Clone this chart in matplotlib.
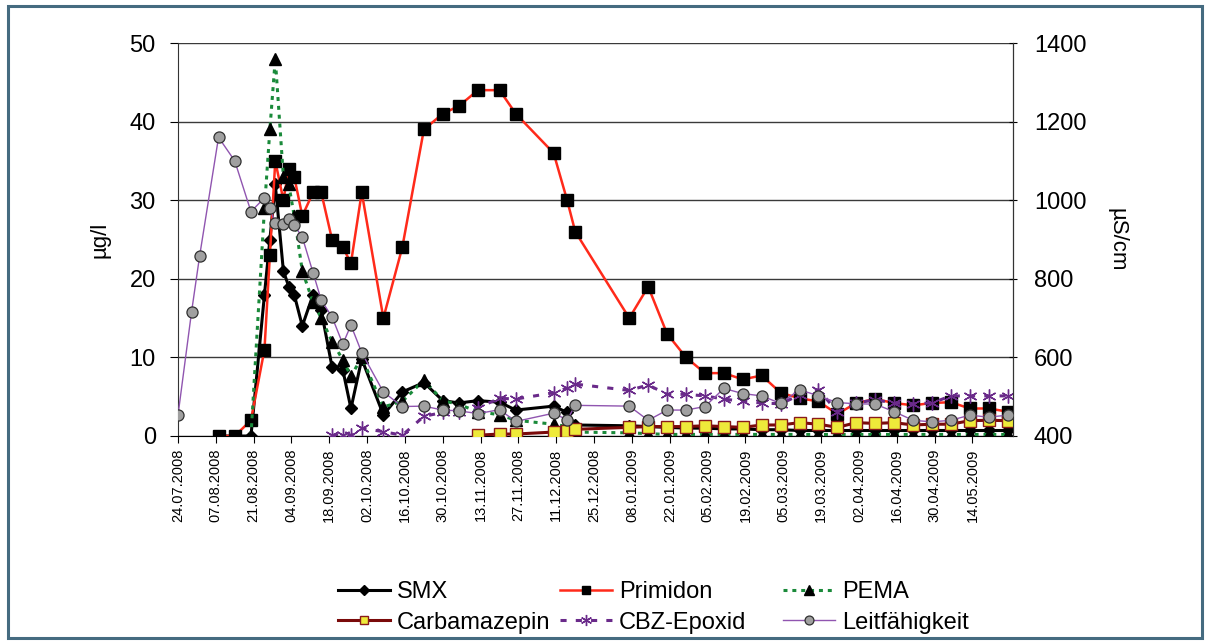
import numpy as np
import pandas as pd
import matplotlib
matplotlib.use("Agg")
import matplotlib.pyplot as plt
from matplotlib.patches import Rectangle

plt.rcParams['font.family'] = ['Liberation Sans', 'DejaVu Sans']

dates = ["24.07.2008", "29.07.2008", "01.08.2008", "08.08.2008", "14.08.2008", "20.08.2008",
         "25.08.2008", "27.08.2008", "29.08.2008", "01.09.2008", "03.09.2008", "05.09.2008",
         "08.09.2008", "12.09.2008", "15.09.2008", "19.09.2008", "23.09.2008", "26.09.2008",
         "30.09.2008", "08.10.2008", "15.10.2008", "23.10.2008", "30.10.2008", "05.11.2008",
         "12.11.2008", "20.11.2008", "26.11.2008", "10.12.2008", "15.12.2008", "18.12.2008",
         "07.01.2009", "14.01.2009", "21.01.2009", "28.01.2009", "04.02.2009", "11.02.2009",
         "18.02.2009", "25.02.2009", "04.03.2009", "11.03.2009", "18.03.2009", "25.03.2009",
         "01.04.2009", "08.04.2009", "15.04.2009", "22.04.2009", "29.04.2009", "06.05.2009",
         "13.05.2009", "20.05.2009", "27.05.2009"]

N = None
smx = [N, N, N, 0, 0, 0, 18, 25, 32, 21, 19, 18, 14, 18, 16, 8.8, 8.4, 3.5, 9.8, 2.7,
       5.6, 6.8, 4.5, 4.2, 4.5, 4.3, 3.3, 3.8, 3.0, 1.4, 1.3, 1.2, 1.1, 1.0, 1.0, 0.9,
       0.9, 0.8, 0.8, 0.7, 0.7, 0.7, 0.7, 0.7, 0.7, 0.7, 0.7, 0.7, 0.7, 0.7, 0.7]
primidon = [N, N, N, 0, 0, 2, 11, 23, 35, 30, 34, 33, 28, 31, 31, 25, 24, 22, 31, 15,
            24, 39, 41, 42, 44, 44, 41, 36, 30, 26, 15, 19, 13, 10, 8, 8, 7.2, 7.7, 5.5,
            4.8, 4.4, 2.8, 4.2, 4.7, 4.2, 3.9, 4.2, 4.3, 3.5, 3.5, 3.1]
pema = [N, N, N, N, N, 0, 29, 39, 48, 33, 32, 28, 21, 17, 15, 12, 9.7, 7.6, 10, 3.7,
        4.4, 7.1, 4.5, 4.0, 3.1, 2.7, 2.0, 1.5, 1.2, 0.5, 0.4, 0.3, 0.2, 0.2, 0.2, 0.2,
        0.2, 0.2, 0.2, 0.2, 0.2, 0.2, 0.2, 0.2, 0.2, 0.2, 0.2, 0.2, 0.2, 0.2, 0.2]
carbamazepin = [N] * 24 + [0.1, 0.25, 0.25, 0.5, 0.6, 0.85, 1.1, 1.2, 1.2, 1.2, 1.3, 1.2,
                           1.1, 1.4, 1.4, 1.7, 1.5, 1.1, 1.7, 1.6, 1.7, 1.4, 1.5, 1.5,
                           1.95, 2.0, 1.95]
cbz_epoxid = [N] * 15 + [0.1, 0.1, 0.1, 1.0, 0.55, 0.1, 2.5, 3.0, 3.1, 3.6, 4.8, 4.7,
                         5.5, 6.1, 6.6, 5.8, 6.5, 5.3, 5.3, 5.1, 4.7, 4.4, 4.2, 4.1, 5.2,
                         5.9, 3.1, 4.2, 4.6, 4.2, 4.1, 4.2, 5.1, 5.1, 5.1, 5.1]
leitfaehigkeit = [453, 715, 858, 1160, 1100, 971, 1006, 980, 942, 940, 952, 937, 906, 815,
                  746, 703, 634, 682, 612, 512, 475, 476, 466, 464, 457, 467, 437, 458, 441,
                  478, 476, 440, 466, 466, 475, 521, 508, 502, 483, 518, 502, 485, 482, 481,
                  462, 440, 436, 440, 453, 448, 453]

x = pd.to_datetime(dates, format="%d.%m.%Y")


def arr(v):
    return np.array([np.nan if a is None else a for a in v], dtype=float)


def draw(a, y, **kw):
    y = arr(y)
    m = ~np.isnan(y)
    return a.plot(x[m], y[m], **kw)[0]


fig = plt.figure(figsize=(12.1, 6.42), dpi=100)
fig.patches.append(Rectangle((8 / 1210, 4 / 642), 1194 / 1210, 632 / 642,
                             transform=fig.transFigure, fill=False,
                             edgecolor="#456b80", linewidth=2.2))
ax = fig.add_axes([178 / 1210, 1 - 436 / 642, 835 / 1210, 393 / 642])
ax2 = ax.twinx()

h1 = draw(ax, smx, color="black", lw=2.2, marker="D", ms=6.5, mfc="black", mec="black",
          label="SMX", zorder=3)
h2 = draw(ax, primidon, color="#ff2a1a", lw=1.8, marker="s", ms=8, mfc="black", mec="black",
          label="Primidon", zorder=3)
h3 = draw(ax, pema, color="#1a8a3a", lw=2.2, ls=(0, (1.3, 1.6)), marker="^", ms=8.5,
          mfc="black", mec="black", label="PEMA", zorder=3)
h4 = draw(ax, carbamazepin, color="#7a0a0a", lw=2.2, marker="s", ms=8, mfc="#eeea3a",
          mec="#8a1a1a", mew=1.0, label="Carbamazepin", zorder=3)
h5 = draw(ax, cbz_epoxid, color="#6a2a8a", lw=2.2, ls=(0, (2, 3)), marker=(6, 2, 0), ms=10,
          mfc="#6a2a8a", mec="#6a2a8a", mew=1.0, label="CBZ-Epoxid", zorder=3)
h6 = draw(ax2, leitfaehigkeit, color="#9055b0", lw=1.0, marker="o", ms=8, mfc="#a0a0a0",
          mec="#303030", mew=0.9, label="Leitfähigkeit", zorder=3)

ax.set_ylim(0, 50)
ax.set_yticks([0, 10, 20, 30, 40, 50])
ax2.set_ylim(400, 1400)
ax2.set_yticks([400, 600, 800, 1000, 1200, 1400])
ax.set_xlim(pd.Timestamp("2008-07-24"), pd.Timestamp("2009-05-29"))
ticks = pd.date_range("2008-07-24", "2009-05-14", freq="14D")
ax.set_xticks(ticks)
ax.set_xticklabels([t.strftime("%d.%m.%Y") for t in ticks], rotation=90, fontsize=10.5)

ax.grid(axis="y", color="#3a3a3a", lw=1.0)
ax.set_axisbelow(True)
ax.spines["top"].set_visible(False)
ax2.spines["top"].set_visible(False)
ax.spines["left"].set_color("#333333")
ax2.spines["right"].set_color("#333333")
ax2.spines["left"].set_visible(False)
ax2.spines["bottom"].set_visible(False)

ax.tick_params(axis="y", labelsize=17, length=6, direction="out", pad=10)
ax2.tick_params(axis="y", labelsize=17, length=6, direction="inout", pad=12)
ax.tick_params(axis="x", length=5, direction="out", pad=4)

ax.set_ylabel("µg/l", fontsize=16, labelpad=14)
ax2.set_ylabel("µS/cm", fontsize=16, rotation=270, labelpad=30)

# one small legend per column, Excel-style equal column widths
columns = [([h1, h4], ["SMX", "Carbamazepin"], 338),
           ([h2, h5], ["Primidon", "CBZ-Epoxid"], 560),
           ([h3, h6], ["PEMA", "Leitfähigkeit"], 783)]
for hs, labels, left in columns:
    leg = fig.legend(hs, labels, loc="upper left", bbox_to_anchor=(left / 1210, 1 - 581 / 642),
                     frameon=False, fontsize=17, handlelength=2.2, handletextpad=0.3,
                     labelspacing=0.36, borderpad=0, borderaxespad=0, markerscale=0.8)

fig.savefig("out.png", dpi=100)
